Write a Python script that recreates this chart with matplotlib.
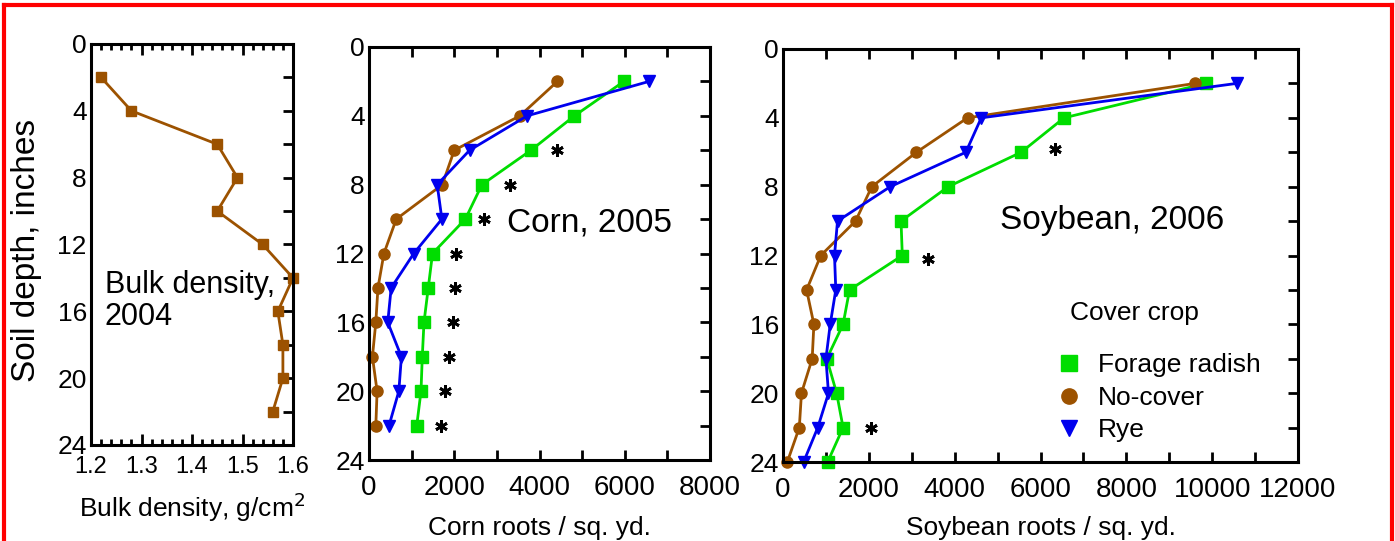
import numpy as np
import matplotlib
matplotlib.use("Agg")
import matplotlib.pyplot as plt
from matplotlib.lines import Line2D
from matplotlib.ticker import MultipleLocator

plt.rcParams['font.family'] = ['Liberation Sans', 'DejaVu Sans']

###############################################################################
# Data

depth_bd = [2, 4, 6, 8, 10, 12, 14, 16, 18, 20, 22]
bulk_density = [1.22, 1.28, 1.45, 1.49, 1.45, 1.54, 1.60, 1.57, 1.58, 1.58, 1.56]

depth_corn = [2, 4, 6, 8, 10, 12, 14, 16, 18, 20, 22]
corn_radish = [5980, 4820, 3800, 2650, 2260, 1490, 1390, 1290, 1250, 1220, 1120]
corn_nocover = [4420, 3540, 2000, 1720, 640, 350, 210, 160, 80, 190, 160]
corn_rye = [6570, 3710, 2360, 1600, 1710, 1050, 520, 440, 760, 700, 470]
corn_star_depth = [6, 8, 10, 12, 14, 16, 18, 20, 22]
corn_star_x = [4420, 3300, 2690, 2040, 2010, 1970, 1870, 1790, 1680]

depth_soy = [2, 4, 6, 8, 10, 12, 14, 16, 18, 20, 22, 24]
soy_radish = [9850, 6550, 5550, 3850, 2750, 2780, 1550, 1400, 1020, 1250, 1400, 1040]
soy_nocover = [9600, 4300, 3110, 2070, 1690, 880, 550, 720, 680, 430, 380, 100]
soy_rye = [10570, 4620, 4260, 2500, 1270, 1200, 1230, 1100, 1000, 1060, 810, 480]
soy_star_depth = [5.8, 12.2, 22]
soy_star_x = [6340, 3380, 2040]

series_names = ['Forage radish', 'No-cover', 'Rye']

###############################################################################
# Styles

BROWN = '#9C5200'
GREEN = '#00DD00'
BLUE = '#0000EE'
XTICK_FS = 20
YTICK_FS = 19
LABEL_FS = 19

fig = plt.figure(figsize=(13.95, 5.41), dpi=100)
W, H = 1395.0, 541.0


def px_axes(left, top, right, bottom):
    return fig.add_axes([left / W, 1 - bottom / H, (right - left) / W, (bottom - top) / H])


def style_axes(ax):
    for s in ax.spines.values():
        s.set_linewidth(2.2)
    ax.set_ylim(24, 0)
    ax.yaxis.set_major_locator(MultipleLocator(4))
    ax.yaxis.set_minor_locator(MultipleLocator(2))
    ax.tick_params(axis='y', which='both', direction='in', left=False, right=True,
                   length=7, width=2, labelsize=YTICK_FS, pad=3)
    ax.tick_params(axis='x', which='both', direction='in', top=True, bottom=True,
                   width=2, labelsize=XTICK_FS)
    ax.tick_params(axis='x', which='major', length=7)
    ax.tick_params(axis='x', which='minor', length=7)


###############################################################################
# Panel 1: bulk density

ax1 = px_axes(91, 44, 293, 445)
style_axes(ax1)
ax1.plot(bulk_density, depth_bd, color=BROWN, lw=2, marker='s', ms=7, clip_on=False)
ax1.set_xlim(1.2, 1.6)
ax1.xaxis.set_major_locator(MultipleLocator(0.1))
ax1.xaxis.set_minor_locator(MultipleLocator(0.02))
ax1.tick_params(axis='x', which='major', length=8, labelsize=17, pad=8)
ax1.tick_params(axis='x', which='minor', length=4)
ax1.set_xlabel('Bulk density, g/cm$^2$', fontsize=LABEL_FS)
ax1.xaxis.set_label_coords(0.5, -0.155)
ax1.xaxis.label.set_va('center')
ax1.set_ylabel('Soil depth, inches', fontsize=24)
ax1.yaxis.set_label_coords(-0.317, 0.486)
ax1.yaxis.label.set_va('center')
ax1.text(1.2277, 15.4, 'Bulk density,\n2004', fontsize=22, va='center', ha='left',
         linespacing=1.1)

###############################################################################
# Panel 2: corn roots

ax2 = px_axes(369, 47, 710, 460)
style_axes(ax2)
ax2.plot(corn_radish, depth_corn, color=GREEN, lw=2, marker='s', ms=8, clip_on=False)
ax2.plot(corn_nocover, depth_corn, color=BROWN, lw=2, marker='o', ms=8, clip_on=False)
ax2.plot(corn_rye, depth_corn, color=BLUE, lw=2, marker='v', ms=9, clip_on=False)
ax2.plot(corn_star_x, corn_star_depth, ls='none', marker=(6, 2, 0), ms=9, mew=2,
         color='black')
ax2.set_xlim(0, 8000)
ax2.xaxis.set_major_locator(MultipleLocator(2000))
ax2.xaxis.set_minor_locator(MultipleLocator(1000))
ax2.tick_params(axis='x', which='major', pad=11)
ax2.set_xlabel('Corn roots / sq. yd.', fontsize=LABEL_FS)
ax2.xaxis.set_label_coords(0.5, -0.165)
ax2.xaxis.label.set_va('center')
ax2.text(3240, 10.2, 'Corn, 2005', fontsize=24, va='center', ha='left')

###############################################################################
# Panel 3: soybean roots

ax3 = px_axes(783, 49, 1298, 462)
style_axes(ax3)
ax3.plot(soy_radish, depth_soy, color=GREEN, lw=2, marker='s', ms=8, clip_on=False)
ax3.plot(soy_nocover, depth_soy, color=BROWN, lw=2, marker='o', ms=8, clip_on=False)
ax3.plot(soy_rye, depth_soy, color=BLUE, lw=2, marker='v', ms=9, clip_on=False)
ax3.plot(soy_star_x, soy_star_depth, ls='none', marker=(6, 2, 0), ms=9, mew=2,
         color='black')
ax3.set_xlim(0, 12000)
ax3.xaxis.set_major_locator(MultipleLocator(2000))
ax3.xaxis.set_minor_locator(MultipleLocator(1000))
ax3.tick_params(axis='x', which='major', pad=11)
ax3.set_xlabel('Soybean roots / sq. yd.', fontsize=LABEL_FS)
ax3.xaxis.set_label_coords(0.5, -0.16)
ax3.xaxis.label.set_va('center')
ax3.text(5056, 9.95, 'Soybean, 2006', fontsize=24, va='center', ha='left')

# Legend (markers only)
handles = [Line2D([], [], ls='none', marker='s', ms=11, color=GREEN),
           Line2D([], [], ls='none', marker='o', ms=11, color=BROWN),
           Line2D([], [], ls='none', marker='v', ms=12, color=BLUE)]
ax3.text(0.557, 0.361, 'Cover crop', transform=ax3.transAxes, fontsize=19,
         va='center', ha='left')
ax3.legend(handles, series_names, loc='upper left', bbox_to_anchor=(0.53, 0.263),
           frameon=False, fontsize=19, handlelength=1.0, handletextpad=0.6,
           labelspacing=0.32, borderpad=0, borderaxespad=0)

###############################################################################
# Red frame around the figure

lw_frame = 3
fig.add_artist(Line2D([4 / W, 4 / W], [0, 1 - 5 / H], color='red', lw=lw_frame,
                      transform=fig.transFigure))
fig.add_artist(Line2D([4 / W, 1392 / W], [1 - 5 / H, 1 - 5 / H], color='red', lw=lw_frame,
                      transform=fig.transFigure))
fig.add_artist(Line2D([1392 / W, 1392 / W], [0, 1 - 5 / H], color='red', lw=lw_frame,
                      transform=fig.transFigure))

fig.savefig('out.png', dpi=100)
